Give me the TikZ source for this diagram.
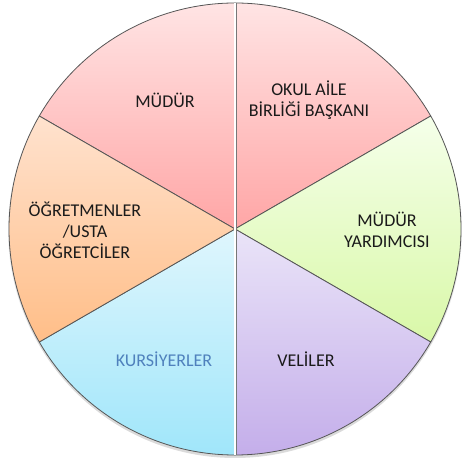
\documentclass[tikz,border=0pt]{standalone}
\usepackage{fontspec}
\setmainfont{Carlito}
\definecolor{pinkT}{HTML}{FFE4E4}
\definecolor{pinkB}{HTML}{FFA6A6}
\definecolor{greenT}{HTML}{F5FFEA}
\definecolor{greenB}{HTML}{D9F8A8}
\definecolor{lavT}{HTML}{EAE4F8}
\definecolor{lavB}{HTML}{C4AEEA}
\definecolor{cyanT}{HTML}{DFF6FD}
\definecolor{cyanB}{HTML}{A0E6FA}
\definecolor{peachT}{HTML}{FFE2CE}
\definecolor{peachB}{HTML}{FFBE88}
\definecolor{edge}{HTML}{555555}
\definecolor{txt}{HTML}{1A1A1A}
\definecolor{bluetxt}{HTML}{4F81BD}
\tikzset{
  slice/.style={draw=edge, line width=0.8pt, line join=round},
  lbl/.style={font=\fontsize{18}{21}\selectfont, text=txt, align=center, inner sep=0pt}
}
\begin{document}
\begin{tikzpicture}[x=1pt,y=1pt]
\useasboundingbox (0,0) rectangle (462,463);
% shadow
\fill[black!35, opacity=0.35] (235,231) circle (226);
\fill[black!20, opacity=0.3] (235,232.5) circle (227);
\begin{scope}[shift={(235,234)}]
\coordinate (c) at (0,0);
\path[slice, top color=pinkT, bottom color=pinkB] (c) -- (90:226) arc (90:150:226) -- cycle;
\path[slice, top color=pinkT, bottom color=pinkB] (c) -- (30:226) arc (30:90:226) -- cycle;
\path[slice, top color=greenT, bottom color=greenB] (c) -- (-30:226) arc (-30:30:226) -- cycle;
\path[slice, top color=lavT, bottom color=lavB] (c) -- (-90:226) arc (-90:-30:226) -- cycle;
\path[slice, top color=cyanT, bottom color=cyanB] (c) -- (-150:226) arc (-150:-90:226) -- cycle;
\path[slice, top color=peachT, bottom color=peachB] (c) -- (150:226) arc (150:210:226) -- cycle;
\coordinate (top) at (90:226);
\coordinate (bot) at (-90:226);
\draw[edge!80, line width=3pt] (top) -- (bot);
\draw[white, line width=1.2pt] (top) -- (bot);
\end{scope}
\node[lbl] (mudur) at (165,363) {MÜDÜR};
\node[lbl] (okul) at (309,363) {OKUL AİLE\\BİRLİĞİ BAŞKANI};
\node[lbl] (yard) at (387,233) {MÜDÜR\\YARDIMCISI};
\node[lbl] (veli) at (306,104) {VELİLER};
\node[lbl, text=bluetxt] (kurs) at (164,104) {KURSİYERLER};
\node[lbl] (ogret) at (85,233) {ÖĞRETMENLER\\/USTA\\ÖĞRETCİLER};
\end{tikzpicture}
\end{document}
